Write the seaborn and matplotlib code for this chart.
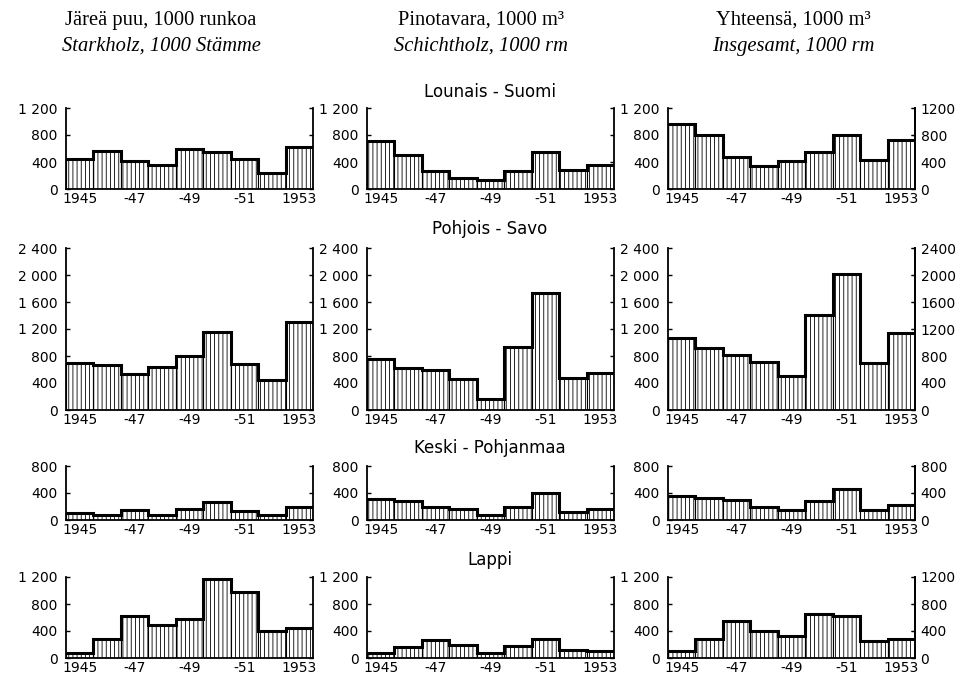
import numpy as np
import matplotlib
matplotlib.use("Agg")
import matplotlib.pyplot as plt
import seaborn as sns

# vuodet 1945-1953
years = ["1945", "1946", "1947", "1948", "1949", "1950", "1951", "1952", "1953"]
xtick_pos = [0, 2, 4, 6, 8]
xtick_labels = ["1945", "-47", "-49", "-51", "1953"]

col_titles = ["Järeä puu, 1000 runkoa", "Pinotavara, 1000 m³", "Yhteensä, 1000 m³"]
col_titles_de = ["Starkholz, 1000 Stämme", "Schichtholz, 1000 rm", "Insgesamt, 1000 rm"]
regions = ["Lounais - Suomi", "Pohjois - Savo", "Keski - Pohjanmaa", "Lappi"]
region_ymax = [1200, 2400, 800, 1200]

lounais_jarea = [440, 560, 410, 360, 600, 555, 445, 240, 620]
lounais_pino = [715, 510, 270, 170, 130, 270, 545, 275, 355]
lounais_yht = [960, 805, 480, 335, 420, 545, 795, 430, 720]

pohjois_jarea = [700, 665, 540, 630, 800, 1150, 675, 440, 1310]
pohjois_pino = [760, 625, 595, 455, 160, 930, 1730, 475, 555]
pohjois_yht = [1065, 915, 820, 715, 500, 1410, 2020, 700, 1145]

keski_jarea = [110, 75, 145, 75, 170, 260, 140, 70, 200]
keski_pino = [305, 275, 200, 170, 80, 195, 400, 115, 160]
keski_yht = [355, 320, 290, 190, 150, 285, 460, 150, 225]

lappi_jarea = [80, 280, 625, 490, 580, 1170, 980, 400, 440]
lappi_pino = [75, 160, 270, 195, 80, 180, 275, 115, 100]
lappi_yht = [110, 275, 555, 400, 320, 650, 620, 245, 285]

data = [
    [lounais_jarea, lounais_pino, lounais_yht],
    [pohjois_jarea, pohjois_pino, pohjois_yht],
    [keski_jarea, keski_pino, keski_yht],
    [lappi_jarea, lappi_pino, lappi_yht],
]

sns.set_style("ticks")
plt.rcParams["font.family"] = ["DejaVu Sans"]
plt.rcParams["text.color"] = "black"
plt.rcParams["xtick.color"] = "black"
plt.rcParams["ytick.color"] = "black"
plt.rcParams["axes.edgecolor"] = "black"
plt.rcParams["hatch.linewidth"] = 0.6
plt.rcParams["hatch.color"] = "black"

W, H = 974, 681
fig = plt.figure(figsize=(W / 100, H / 100), dpi=100)

col_left = [66, 367, 668]
col_w = 247
row_bottom = [189, 410, 520, 658]
px_per_unit = 0.0675

def left_fmt(v):
    return f"{v:,}".replace(",", " ")

for r in range(4):
    ymax = region_ymax[r]
    hpx = ymax * px_per_unit
    ticks = list(range(0, ymax + 1, 400))
    for c in range(3):
        vals = data[r][c]
        ax = fig.add_axes([col_left[c] / W, (H - row_bottom[r]) / H, col_w / W, hpx / H])
        sns.barplot(x=years, y=vals, ax=ax, color="white", edgecolor="black",
                    linewidth=0.8, width=1.0, hatch="||||", saturation=1)
        ax.stairs(vals, np.arange(len(vals) + 1) - 0.5, color="black", lw=2.2, baseline=None)
        ax.set_xlim(-0.5, len(vals) - 0.5)
        ax.set_ylim(0, ymax)
        ax.set_xlabel("")
        ax.set_ylabel("")
        ax.set_xticks(xtick_pos, xtick_labels)
        ax.set_yticks(ticks, [left_fmt(t) for t in ticks])
        ax.tick_params(axis="x", length=0, pad=2, labelsize=10)
        ax.tick_params(axis="y", direction="in", length=3, width=1, right=True,
                       labelsize=10, pad=6)
        for s in ["left", "right", "bottom"]:
            ax.spines[s].set_linewidth(1.3)
        ax.spines["top"].set_visible(False)
        if c == 2:
            sec = ax.secondary_yaxis("right")
            sec.set_yticks(ticks, [str(t) for t in ticks])
            sec.tick_params(direction="in", length=3, labelsize=10, pad=4)
            sec.spines["right"].set_linewidth(1.3)

# otsikot
title_x = [161, 481, 793]
for c in range(3):
    fig.text(title_x[c] / W, 1 - 20 / H, col_titles[c], ha="center", va="center",
             fontsize=14.8, family=["Liberation Serif", "DejaVu Serif"])
    fig.text(title_x[c] / W, 1 - 46 / H, col_titles_de[c], ha="center", va="center",
             fontsize=14.8, style="italic", family=["Liberation Serif", "DejaVu Serif"])

region_y = [92, 229, 448, 560]
for r in range(4):
    fig.text(490 / W, 1 - region_y[r] / H, regions[r], ha="center", va="center", fontsize=12)

fig.savefig("out.png", dpi=100)
